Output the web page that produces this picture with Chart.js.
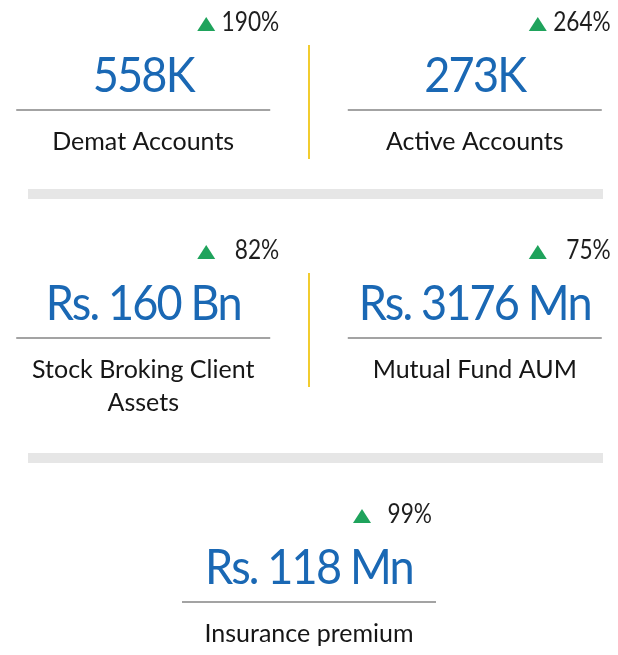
<!DOCTYPE html>
<html>
<head>
<meta charset="utf-8">
<script src="https://cdn.jsdelivr.net/npm/chart.js@4.4.1/dist/chart.umd.min.js"></script>
<style>
  html, body { margin: 0; padding: 0; background: #fff; }
  #wrap { width: 618px; height: 655px; }
</style>
</head>
<body>
<div id="wrap"><canvas id="indicadores"></canvas></div>
<script>
// Datos de los indicadores
var titulos = ['Demat Accounts', 'Active Accounts', 'Stock Broking Client Assets', 'Mutual Fund AUM', 'Insurance premium'];
var cifras = [558, 273, 160, 3176, 118];
var prefijos = ['', '', 'Rs. ', 'Rs. ', 'Rs. '];
var unidades = ['K', 'K', ' Bn', ' Mn', ' Mn'];
var crecimiento = [190, 264, 82, 75, 99];

var FUENTE = 'Lato, "Open Sans", sans-serif';
var AZUL = '#1a68b4';
var VERDE = '#1fa35c';
var AMARILLO = '#f2cc2f';

// Posicion de cada tarjeta: dos por fila, la ultima centrada si queda sola
var puntos = titulos.map(function (t, i) {
  var fila = Math.floor(i / 2);
  var sola = (i === titulos.length - 1) && (i % 2 === 0);
  return { x: sola ? 0.5 : i % 2, y: fila };
});

// Parte el texto en lineas segun el ancho disponible
function partirTexto(ctx, texto, ancho) {
  var palabras = texto.split(' ');
  var lineas = [];
  var actual = '';
  palabras.forEach(function (p) {
    var prueba = actual ? actual + ' ' + p : p;
    if (ctx.measureText(prueba).width > ancho && actual) {
      lineas.push(actual);
      actual = p;
    } else {
      actual = prueba;
    }
  });
  if (actual) lineas.push(actual);
  return lineas;
}

// Texto comprimido en horizontal (la fuente original es mas estrecha)
function textoEstrecho(ctx, texto, x, y, escala) {
  ctx.save();
  ctx.translate(x, y);
  ctx.scale(escala, 1);
  ctx.fillText(texto, 0, 0);
  ctx.restore();
}

// Plugin que dibuja las tarjetas sobre cada punto
var tarjetas = {
  id: 'tarjetas',
  afterDatasetsDraw: function (chart) {
    var ctx = chart.ctx;
    var meta = chart.getDatasetMeta(0);
    var escalaX = chart.scales.x;
    var area = chart.chartArea;
    var nFilas = Math.ceil(titulos.length / 2);
    var arriba = 21;

    ctx.save();
    for (var fila = 0; fila < nFilas; fila++) {
      var indices = [];
      puntos.forEach(function (p, i) { if (p.y === fila) indices.push(i); });

      // Calcular lineas del titulo antes de dibujar
      ctx.font = '25px ' + FUENTE;
      var lineasPorTarjeta = indices.map(function (i) {
        return partirTexto(ctx, titulos[i], 236);
      });
      var extra = Math.max.apply(null, lineasPorTarjeta.map(function (l) { return l.length; })) - 1;

      indices.forEach(function (i, k) {
        var cx = meta.data[i].x;
        var sola = indices.length === 1;

        // Flecha y porcentaje
        var flechaX = cx + (sola ? 44 : 54);
        var textoDer = cx + (sola ? 123 : 136);
        ctx.fillStyle = VERDE;
        ctx.beginPath();
        ctx.moveTo(flechaX, arriba + 10);
        ctx.lineTo(flechaX + 18, arriba + 10);
        ctx.lineTo(flechaX + 9, arriba - 4);
        ctx.closePath();
        ctx.fill();

        ctx.fillStyle = '#1e1e1e';
        ctx.font = '27px ' + FUENTE;
        ctx.textAlign = 'right';
        ctx.textBaseline = 'alphabetic';
        textoEstrecho(ctx, crecimiento[i] + '%', textoDer, arriba + 10, 0.84);

        // Valor principal
        ctx.fillStyle = AZUL;
        ctx.font = '49px ' + FUENTE;
        ctx.letterSpacing = '-2px';
        ctx.textAlign = 'center';
        textoEstrecho(ctx, prefijos[i] + cifras[i] + unidades[i], cx, arriba + 71, 0.92);
        ctx.letterSpacing = '0px';

        // Linea gris bajo el valor
        ctx.strokeStyle = '#a3a3a3';
        ctx.lineWidth = 2;
        ctx.beginPath();
        ctx.moveTo(cx - 127, arriba + 89);
        ctx.lineTo(cx + 127, arriba + 89);
        ctx.stroke();

        // Titulo del indicador
        ctx.fillStyle = '#161616';
        ctx.font = '25px ' + FUENTE;
        lineasPorTarjeta[k].forEach(function (linea, n) {
          ctx.fillText(linea, cx, arriba + 129 + n * 33);
        });
      });

      // Divisor amarillo entre las dos tarjetas
      if (indices.length === 2) {
        var medio = escalaX.getPixelForValue(0.5);
        ctx.strokeStyle = AMARILLO;
        ctx.lineWidth = 2;
        ctx.beginPath();
        ctx.moveTo(medio, arriba + 24);
        ctx.lineTo(medio, arriba + 138);
        ctx.stroke();
      }

      // Franja gris entre filas
      if (fila < nFilas - 1) {
        var franja = arriba + 173 + extra * 36;
        ctx.fillStyle = '#e6e6e6';
        ctx.fillRect(area.left + 28, franja - 5, 575, 10);
        arriba = franja + 55;
      }
    }
    ctx.restore();
  }
};

var ctxIndicadores = document.getElementById('indicadores').getContext('2d');
new Chart(ctxIndicadores, {
  type: 'scatter',
  data: {
    datasets: [{
      data: puntos,
      pointRadius: 0,
      pointHoverRadius: 0
    }]
  },
  options: {
    responsive: true,
    maintainAspectRatio: false,
    animation: false,
    layout: { padding: 0 },
    plugins: {
      legend: { display: false },
      tooltip: { enabled: false }
    },
    scales: {
      x: { display: false, min: -0.432, max: 1.432 },
      y: { display: false, min: -0.5, max: 2.5, reverse: true }
    }
  },
  plugins: [tarjetas]
});
</script>
</body>
</html>
